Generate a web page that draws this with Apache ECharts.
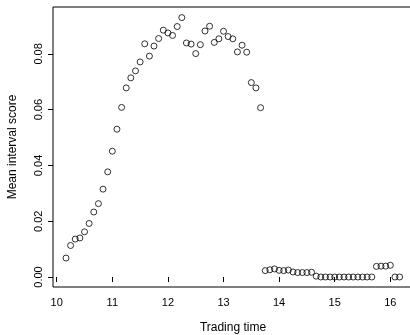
<!DOCTYPE html>
<html>
<head>
<meta charset="utf-8">
<script src="https://cdn.jsdelivr.net/npm/echarts@6/dist/echarts.min.js"></script>
<style>
  html, body { margin: 0; padding: 0; background: #fff; }
  #chart { width: 410px; height: 335px; }
</style>
</head>
<body>
<div id="chart"></div>
<script>
// trading time (hours, 5 min steps)
const times = [
  10.167, 10.25, 10.333, 10.417, 10.5, 10.583, 10.667, 10.75, 10.833, 10.917,
  11, 11.083, 11.167, 11.25, 11.333, 11.417, 11.5, 11.583, 11.667, 11.75, 11.833, 11.917,
  12, 12.083, 12.167, 12.25, 12.333, 12.417, 12.5, 12.583, 12.667, 12.75, 12.833, 12.917,
  13, 13.083, 13.167, 13.25, 13.333, 13.417, 13.5, 13.583, 13.667, 13.75, 13.833, 13.917,
  14, 14.083, 14.167, 14.25, 14.333, 14.417, 14.5, 14.583, 14.667, 14.75, 14.833, 14.917,
  15, 15.083, 15.167, 15.25, 15.333, 15.417, 15.5, 15.583, 15.667, 15.75, 15.833, 15.917,
  16, 16.083, 16.167
];

// mean interval score at each time
const scores = [
  0.0068, 0.0113, 0.0136, 0.0140, 0.0162, 0.0192, 0.0233, 0.0263, 0.0315, 0.0377,
  0.0451, 0.0530, 0.0608, 0.0678, 0.0714, 0.0739, 0.0771, 0.0836, 0.0792, 0.0828, 0.0855, 0.0885,
  0.0875, 0.0866, 0.0898, 0.0930, 0.0839, 0.0835, 0.0801, 0.0833, 0.0882, 0.0899, 0.0841, 0.0854,
  0.0881, 0.0862, 0.0854, 0.0807, 0.0831, 0.0806, 0.0697, 0.0678, 0.0607, 0.0023, 0.0026, 0.0029,
  0.0024, 0.0023, 0.0025, 0.0018, 0.0016, 0.0016, 0.0016, 0.0017, 0.0003, 0, 0, 0,
  0, 0, 0, 0, 0, 0, 0, 0, 0, 0.0038, 0.0039, 0.0039,
  0.0042, 0, 0
];

const xTicks = [10, 11, 12, 13, 14, 15, 16];
const yTicks = [0, 0.02, 0.04, 0.06, 0.08];

const font = "'Liberation Sans', Arial, sans-serif";
const chart = echarts.init(document.getElementById("chart"));

chart.setOption({
  animation: false,
  grid: {
    left: 53, top: 7, width: 360, height: 280,
    outerBoundsMode: "none",
    show: true, borderColor: "#000", borderWidth: 1, backgroundColor: "transparent"
  },
  xAxis: {
    type: "value",
    min: 9.933, max: 16.408,
    name: "Trading time",
    nameLocation: "middle",
    nameGap: 35,
    nameTextStyle: { fontFamily: font, fontSize: 12, color: "#000" },
    axisLine: { show: false },
    axisTick: { show: true, length: 5, lineStyle: { color: "#000" }, customValues: xTicks },
    axisLabel: { fontFamily: font, fontSize: 11, color: "#000", margin: 10, customValues: xTicks },
    splitLine: { show: false }
  },
  yAxis: {
    type: "value",
    min: -0.00358, max: 0.0968,
    name: "Mean interval score",
    nameLocation: "middle",
    nameGap: 34,
    nameTextStyle: { fontFamily: font, fontSize: 12, color: "#000" },
    axisLine: { show: false },
    axisTick: { show: true, length: 5, lineStyle: { color: "#000" }, customValues: yTicks },
    axisLabel: {
      fontFamily: font, fontSize: 11, color: "#000", margin: 9, rotate: 90,
      customValues: yTicks,
      formatter: (v) => v.toFixed(2)
    },
    splitLine: { show: false }
  },
  series: [
    {
      type: "scatter",
      data: times.map((t, i) => [t, scores[i]]),
      symbol: "circle",
      symbolSize: 6,
      itemStyle: { color: "transparent", borderColor: "#000", borderWidth: 1 }
    }
  ]
});
</script>
</body>
</html>
